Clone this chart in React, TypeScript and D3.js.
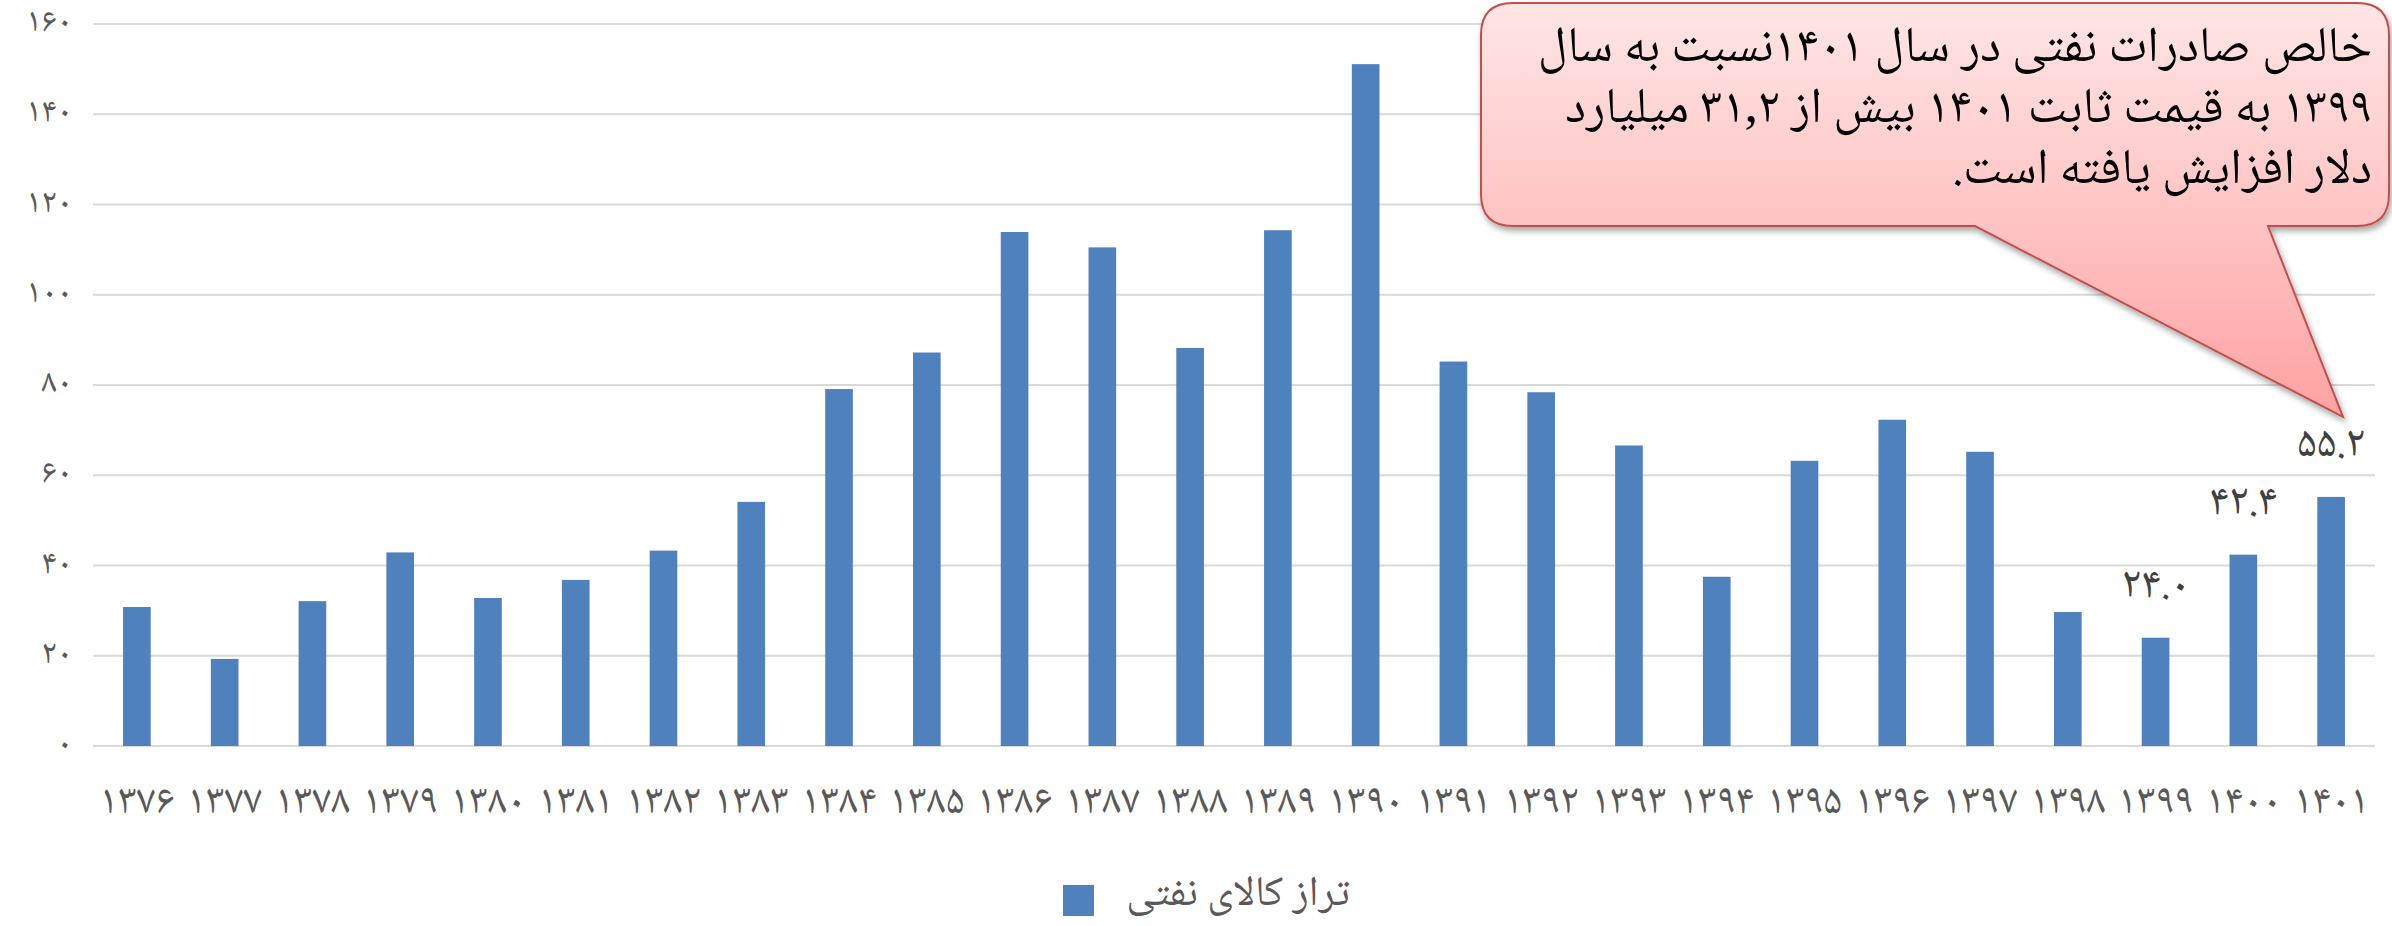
import React from 'react';
import { scaleBand, scaleLinear } from 'd3';

// سال‌ها و مقدار تراز کالای نفتی (میلیارد دلار)
const years = ['1376', '1377', '1378', '1379', '1380', '1381', '1382', '1383', '1384', '1385', '1386', '1387', '1388', '1389', '1390', '1391', '1392', '1393', '1394', '1395', '1396', '1397', '1398', '1399', '1400', '1401'];
const values = [30.8, 19.3, 32.1, 42.9, 32.8, 36.8, 43.3, 54.1, 79.1, 87.2, 113.9, 110.5, 88.2, 114.3, 151.1, 85.2, 78.4, 66.6, 37.5, 63.2, 72.3, 65.2, 29.7, 24.0, 42.4, 55.2];
const labelledYears = ['1399', '1400', '1401'];
const yTicks = [0, 20, 40, 60, 80, 100, 120, 140, 160];
const legendLabel = 'تراز کالای نفتی';
const calloutLines = [
  'خالص صادرات نفتی در سال ۱۴۰۱نسبت به سال',
  '۱۳۹۹ به قیمت ثابت ۱۴۰۱ بیش از ۳۱,۲ میلیارد',
  'دلار افزایش یافته است.',
];

const faDigits = '۰۱۲۳۴۵۶۷۸۹';
const toFa = (s: string) => s.replace(/[0-9]/g, d => faDigits[+d]);

const FONT = '"Noto Naskh Arabic", "Noto Sans Arabic", "DejaVu Sans", sans-serif';

const App = () => {
  const width = 2392;
  const height = 926;
  const plot = { left: 93, right: 2375, top: 24, bottom: 746 };

  const x = scaleBand<string>()
    .domain(years)
    .range([plot.left, plot.right])
    .paddingInner(0.685)
    .paddingOuter(0.3425);

  const y = scaleLinear().domain([0, 160]).range([plot.bottom, plot.top]);

  // callout shape
  const c = { l: 1481, t: 3, r: 2389, b: 226, rad: 32, base1: 1975, base2: 2268, tipX: 2343, tipY: 417 };
  const calloutPath = `M${c.l + c.rad},${c.t} H${c.r - c.rad} Q${c.r},${c.t} ${c.r},${c.t + c.rad} V${c.b - c.rad} Q${c.r},${c.b} ${c.r - c.rad},${c.b} H${c.base2} L${c.tipX},${c.tipY} L${c.base1},${c.b} H${c.l + c.rad} Q${c.l},${c.b} ${c.l},${c.b - c.rad} V${c.t + c.rad} Q${c.l},${c.t} ${c.l + c.rad},${c.t} Z`;

  return (
    <svg width={width} height={height} style={{ position: 'absolute', left: 0, top: 0, background: '#fff' }}>
      <defs>
        <linearGradient id="calloutFill" gradientUnits="userSpaceOnUse" x1="0" y1="0" x2="0" y2="417">
          <stop offset="0" stopColor="#FFE6E6" />
          <stop offset="0.55" stopColor="#FFC2C2" />
          <stop offset="1" stopColor="#FFA2A2" />
        </linearGradient>
        <filter id="shadow" x="-10%" y="-10%" width="120%" height="130%">
          <feDropShadow dx="2" dy="4" stdDeviation="3" floodColor="#000" floodOpacity="0.35" />
        </filter>
      </defs>

      {/* gridlines + y labels */}
      {yTicks.map(t => (
        <g key={t}>
          <line x1={plot.left} x2={plot.right} y1={y(t)} y2={y(t)} stroke="#D9D9D9" strokeWidth={2} />
          <text x={72} y={y(t)} textAnchor="end" dominantBaseline="central" fontFamily={FONT} fontSize={34} letterSpacing={3} fill="#595959">
            {toFa(String(t))}
          </text>
        </g>
      ))}

      {/* bars */}
      {years.map((yr, i) => (
        <rect key={yr} x={x(yr)} y={y(values[i])} width={x.bandwidth()} height={y(0) - y(values[i])} fill="#4F81BD" />
      ))}

      {/* data labels */}
      {years.map((yr, i) => labelledYears.includes(yr) ? (
        <text key={'l' + yr} x={(x(yr) as number) + x.bandwidth() / 2} y={y(values[i]) - 50} textAnchor="middle" dominantBaseline="central" fontFamily={FONT} fontSize={44} fill="#404040">
          {toFa(values[i].toFixed(1))}
        </text>
      ) : null)}

      {/* x labels */}
      {years.map(yr => (
        <text key={'x' + yr} x={(x(yr) as number) + x.bandwidth() / 2} y={804} textAnchor="middle" dominantBaseline="central" fontFamily={FONT} fontSize={42} fill="#595959">
          {toFa(yr)}
        </text>
      ))}

      {/* legend */}
      <rect x={1063} y={885} width={31} height={31} fill="#4F81BD" />
      <text x={1350} y={896} textAnchor="start" direction="rtl" dominantBaseline="central" fontFamily={FONT} fontSize={42} fill="#595959">
        {legendLabel}
      </text>

      {/* callout */}
      <path d={calloutPath} fill="url(#calloutFill)" stroke="#C0504D" strokeWidth={2} filter="url(#shadow)" />
      {calloutLines.map((line, i) => (
        <text key={i} x={2372} y={50 + i * 61} textAnchor="start" direction="rtl" dominantBaseline="central" fontFamily={FONT} fontSize={50} fill="#000">
          {line}
        </text>
      ))}
    </svg>
  );
};

export default App;
